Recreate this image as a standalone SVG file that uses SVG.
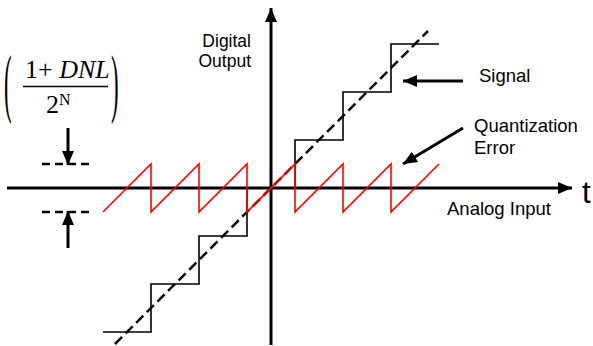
<svg xmlns="http://www.w3.org/2000/svg" width="593" height="346" viewBox="0 0 593 346">
<style>
.lbl{font-family:"Liberation Sans",Arial,sans-serif;font-size:18.5px;fill:#000}
.math{font-family:"Liberation Serif","Times New Roman",serif;fill:#000}
.axis{stroke:#000;stroke-width:3;fill:none}
.arr{stroke:#000;stroke-width:3;fill:none}
.stair{stroke:#000;stroke-width:1.6;fill:none}
.ideal{stroke:#000;stroke-width:2.5;fill:none;stroke-dasharray:10 5}
.err{stroke:#ff0000;stroke-width:1.6;fill:none}
.lvl{stroke:#000;stroke-width:2.5;fill:none;stroke-dasharray:8 5}
</style>
<defs>
<marker id="ah" viewBox="0 0 14 12" refX="14" refY="6" markerWidth="14" markerHeight="12" markerUnits="userSpaceOnUse" orient="auto">
<path d="M0,0 L14,6 L0,12 Z" fill="#000"/>
</marker>
</defs>
<rect width="593" height="346" fill="#fff"/>
<g id="connectors">
<line id="x-axis" class="axis" x1="7" y1="188" x2="572" y2="188" marker-end="url(#ah)"/>
<line id="y-axis" class="axis" x1="271" y1="345" x2="271" y2="8" marker-end="url(#ah)"/>
<line id="signal-arrow" class="arr" x1="463" y1="81" x2="403" y2="81" marker-end="url(#ah)"/>
<line id="error-arrow" class="arr" x1="463" y1="128" x2="403" y2="164" marker-end="url(#ah)"/>
<line id="lsb-top-arrow" class="arr" x1="68" y1="128" x2="68" y2="165" marker-end="url(#ah)"/>
<line id="lsb-bottom-arrow" class="arr" x1="68" y1="248" x2="68" y2="211" marker-end="url(#ah)"/>
</g>
<g id="ideal-line">
<line class="ideal" x1="115" y1="344" x2="428" y2="31"/>
</g>
<g id="staircase">
<path class="stair" d="M103,332 H151 V284 H199 V236 H247 V188 H295 V140 H343 V92 H391 V44 H439"/>
</g>
<g id="quantization-error">
<path class="err" d="M103,212 L151,164 V212 L199,164 V212 L247,164 V212 L295,164 V212 L343,164 V212 L391,164 V212 L439,164"/>
</g>
<g id="lsb-levels">
<line class="lvl" x1="42" y1="164" x2="92" y2="164"/>
<line class="lvl" x1="42" y1="212" x2="92" y2="212"/>
</g>
<g id="formula">
<text class="math" font-size="76" transform="translate(4,108) scale(0.3,1)">(</text>
<text class="math" font-size="76" transform="translate(111,108) scale(0.3,1)">)</text>
<text class="math" x="25" y="78" font-size="26">1+ <tspan font-style="italic">DNL</tspan></text>
<line x1="23" y1="86.5" x2="108" y2="86.5" stroke="#000" stroke-width="1.5"/>
<text class="math" x="46" y="113" font-size="26">2<tspan font-size="16" dy="-8">N</tspan></text>
</g>
<g id="label-digital-output">
<text class="lbl" x="251" y="47" text-anchor="end" style="font-size:17.5px">Digital</text>
<text class="lbl" x="251" y="67" text-anchor="end" style="font-size:17.5px">Output</text>
</g>
<g id="label-signal">
<text class="lbl" x="479" y="82">Signal</text>
</g>
<g id="label-quantization-error">
<text class="lbl" x="474" y="132">Quantization</text>
<text class="lbl" x="474" y="154">Error</text>
</g>
<g id="label-analog-input">
<text class="lbl" x="447" y="215">Analog Input</text>
</g>
<g id="label-t">
<text class="lbl" x="582" y="203" style="font-size:31px">t</text>
</g>
</svg>
